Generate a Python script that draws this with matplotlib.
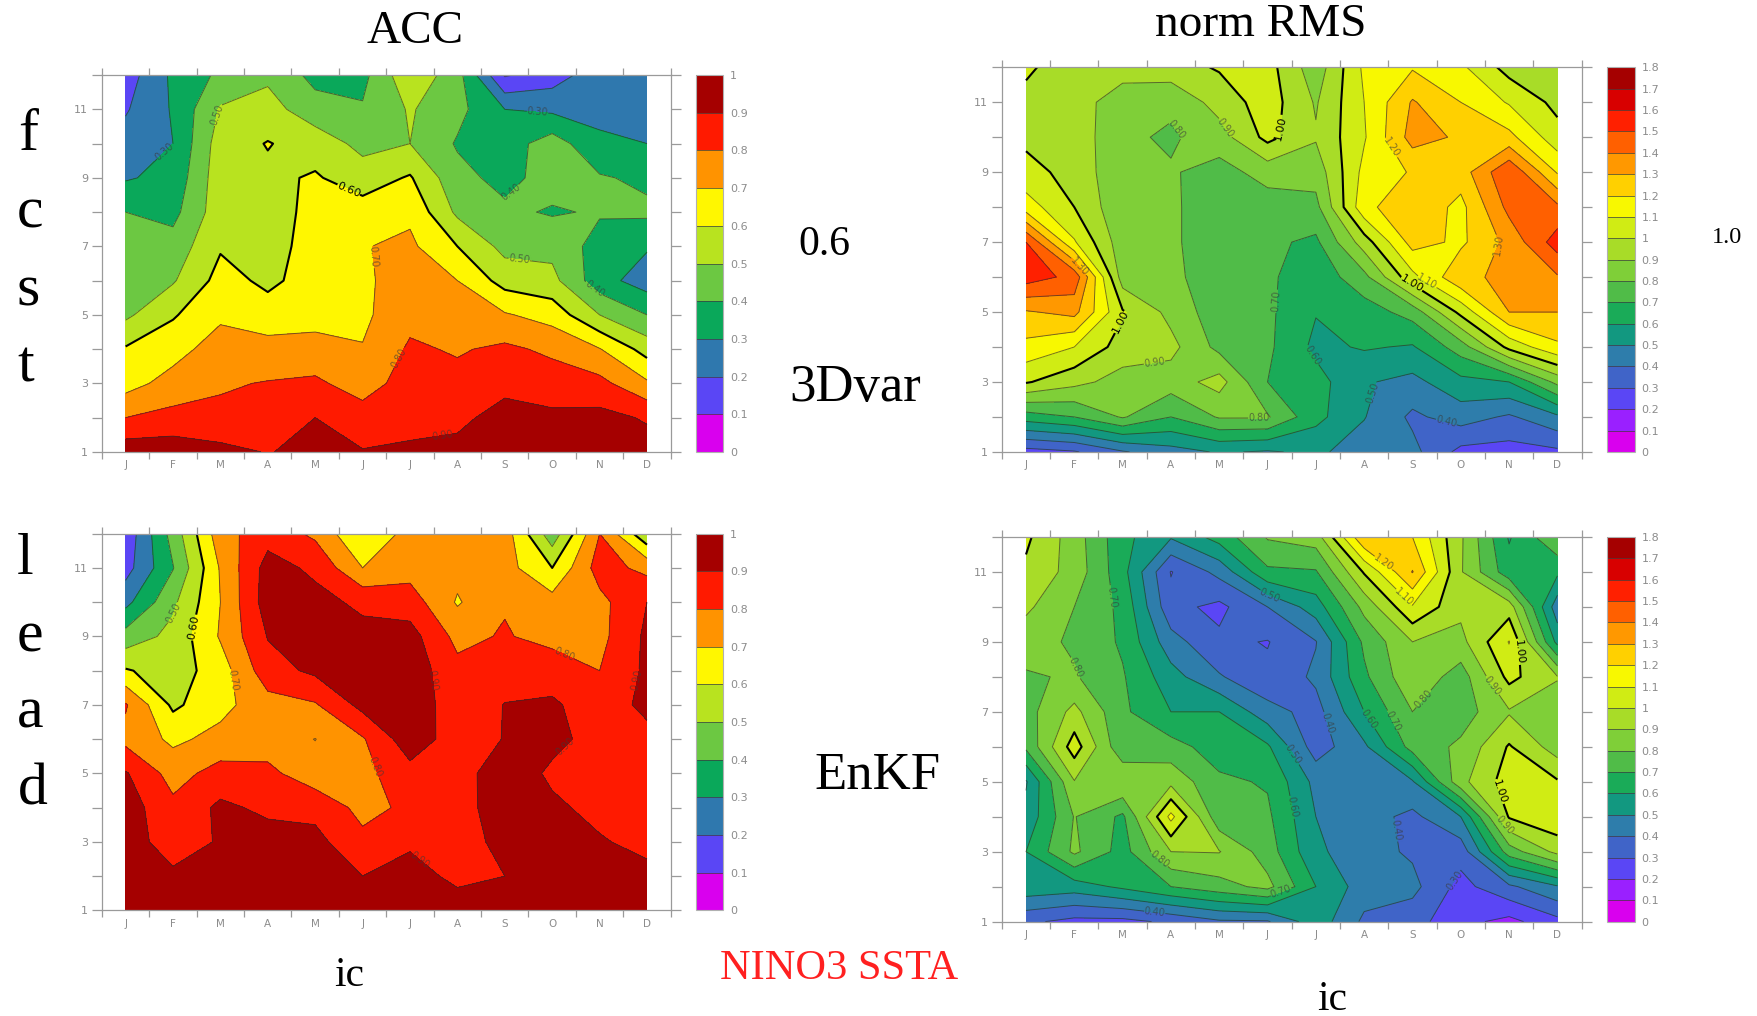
import matplotlib
matplotlib.use('Agg')
import matplotlib.pyplot as plt
import numpy as np

W, H = 1758, 1016
SCALE = W / 1568.0
SERIF = 'Liberation Serif'
GREY = '#9a9a9a'
LABEL_GREY = '#8c8c8c'

months = ['J', 'F', 'M', 'A', 'M', 'J', 'J', 'A', 'S', 'O', 'N', 'D']
leads = list(range(1, 13))

acc_levels = [round(0.1 * i, 1) for i in range(11)]
rms_levels = [round(0.1 * i, 1) for i in range(19)]

acc_colors = ['#d900ee', '#5a46f5', '#2f78ae', '#0aa85a', '#6cc842',
              '#b8e31f', '#fff700', '#ff9300', '#ff1a00', '#a50000']
rms_colors = ['#d900ee', '#9a20ff', '#5a46f5', '#4064c8', '#2e7dab', '#129880',
              '#1aab58', '#50bc48', '#7fcf38', '#a8dc28', '#d0ec14', '#f8f800',
              '#ffd000', '#ff9800', '#ff6000', '#ff2000', '#d80000', '#a50000']

# one row per month (J..D), lead 1..12 along the row
acc_3dvar = [
    [.96, .80, .66, .61, .48, .46, .44, .40, .29, .24, .19, .15],
    [.96, .83, .74, .66, .59, .49, .44, .37, .33, .30, .31, .32],
    [.93, .82, .79, .75, .68, .635, .59, .56, .56, .55, .51, .42],
    [.895, .85, .805, .74, .64, .58, .57, .57, .58, .605, .54, .48],
    [.93, .90, .82, .73, .67, .64, .63, .62, .61, .56, .44, .37],
    [.905, .85, .75, .705, .68, .685, .695, .645, .55, .47, .41, .37],
    [.905, .89, .85, .815, .77, .74, .72, .68, .61, .50, .51, .58],
    [.93, .875, .83, .79, .745, .70, .60, .48, .43, .39, .43, .44],
    [.96, .94, .87, .82, .71, .56, .47, .42, .37, .35, .30, .09],
    [.96, .92, .85, .78, .66, .53, .47, .39, .44, .45, .28, .15],
    [.95, .93, .83, .705, .50, .34, .36, .41, .41, .32, .27, .26],
    [.94, .89, .715, .56, .40, .25, .31, .42, .38, .30, .26, .24],
]
rms_3dvar = [
    [.26, .65, 1.01, 1.17, 1.29, 1.55, 1.5, 1.15, 1.03, .98, .975, 1.015],
    [.29, .70, .93, 1.10, 1.33, 1.47, 1.11, 1.0, .97, .96, .95, .95],
    [.39, .81, .86, .955, 1.01, .85, .84, .82, .815, .82, .84, .95],
    [.46, .70, .85, .93, .87, .83, .82, .82, .81, .785, .82, .96],
    [.51, .81, .94, .77, .74, .73, .73, .73, .76, .855, .94, 1.01],
    [.49, .81, .70, .72, .72, .72, .72, .75, .84, 1.03, 1.05, 1.04],
    [.52, .63, .64, .575, .605, .63, .68, .77, .84, .91, .89, .84],
    [.45, .505, .51, .61, .65, .77, .95, 1.17, 1.13, 1.09, 1.10, 1.12],
    [.43, .38, .47, .59, .74, 1.07, 1.24, 1.28, 1.21, 1.34, 1.31, 1.19],
    [.27, .445, .57, .75, 1.03, 1.28, 1.18, 1.17, 1.25, 1.285, 1.20, 1.12],
    [.26, .385, .60, 1.03, 1.30, 1.32, 1.33, 1.43, 1.49, 1.23, 1.09, .96],
    [.28, .48, .83, 1.18, 1.30, 1.39, 1.55, 1.42, 1.19, 1.04, .97, .93],
]
acc_enkf = [
    [.97, .97, .95, .95, .91, .77, .81, .61, .44, .27, .16, .13],
    [.96, .92, .85, .825, .76, .68, .58, .55, .53, .48, .395, .44],
    [.97, .95, .91, .92, .84, .73, .67, .65, .71, .70, .71, .76],
    [.97, .96, .94, .88, .825, .75, .76, .86, .905, .95, .94, .86],
    [.97, .96, .93, .87, .74, .698, .79, .92, .94, .93, .88, .78],
    [.96, .90, .825, .77, .77, .79, .93, .96, .93, .88, .70, .60],
    [.97, .95, .88, .82, .865, .96, .97, .96, .94, .85, .76, .74],
    [.96, .87, .84, .84, .85, .85, .84, .83, .77, .69, .73, .75],
    [.96, .90, .94, .98, .97, .904, .903, .86, .81, .79, .74, .75],
    [.97, .97, .95, .92, .88, .93, .91, .87, .76, .74, .60, .44],
    [.97, .96, .91, .87, .85, .86, .865, .80, .77, .77, .845, .80],
    [.97, .93, .87, .85, .86, .88, .916, .92, .92, .90, .77, .52],
]
rms_enkf = [
    [.32, .57, .60, .53, .49, .72, .76, .79, .84, .92, .98, 1.02],
    [.27, .55, .82, .805, .895, 1.05, .93, .81, .785, .80, .86, .85],
    [.27, .62, .66, .68, .90, .72, .72, .71, .685, .675, .635, .63],
    [.32, .70, .90, 1.13, .87, .74, .60, .54, .44, .33, .295, .51],
    [.385, .76, .905, .73, .72, .65, .60, .41, .32, .275, .43, .64],
    [.39, .83, .75, .72, .69, .615, .44, .32, .295, .40, .68, .81],
    [.56, .60, .52, .50, .47, .35, .36, .42, .395, .55, .69, .85],
    [.38, .45, .44, .44, .42, .48, .60, .68, .72, .83, 1.01, 1.29],
    [.34, .43, .385, .375, .49, .74, .80, .88, .90, 1.09, 1.305, 1.20],
    [.23, .265, .34, .50, .87, .82, .75, .75, .87, .925, .91, .915],
    [.17, .38, .75, 1.01, 1.05, 1.01, .89, 1.03, 1.105, .95, .64, .59],
    [.27, .49, .93, 1.08, 1.01, .85, .86, .905, .57, .44, .62, .79],
]

# level, month position, lead
acc_3dvar_labels = [(.3, 1.83, 9.77), (.5, 2.98, 10.83), (.3, 9.69, 10.9), (.4, 9.17, 8.5),
                    (.6, 5.72, 8.7), (.7, 6.2, 6.7), (.5, 9.3, 6.54), (.4, 10.9, 5.78),
                    (.8, 6.78, 3.74), (.9, 7.69, 1.41)]
rms_3dvar_labels = [(.8, 4.14, 10.26), (.9, 5.12, 10.26), (1.0, 6.28, 10.26), (1.2, 8.58, 9.72),
                    (1.3, 2.07, 6.27), (1.0, 3.0, 4.7), (.9, 3.66, 3.55), (.7, 6.24, 5.3),
                    (1.3, 10.93, 6.8), (1.0, 8.97, 5.77), (1.1, 9.27, 5.77), (.6, 6.91, 3.75),
                    (.5, 8.16, 2.7), (.4, 9.7, 1.85), (.8, 5.82, 1.95)]
acc_enkf_labels = [(.5, 1.9, 9.74), (.6, 2.37, 9.28), (.7, 3.29, 7.72), (.9, 7.43, 7.72),
                   (.8, 10.26, 8.5), (.9, 11.78, 7.72), (.9, 10.3, 5.73), (.8, 6.44, 5.28),
                   (.9, 7.2, 2.48)]
rms_enkf_labels = [(.7, 2.83, 10.3), (.5, 6.01, 10.17), (1.2, 8.39, 11.24), (1.1, 8.82, 10.27),
                   (.8, 2.09, 8.29), (1.0, 11.2, 8.72), (.9, 10.67, 7.77), (.8, 9.22, 7.39),
                   (.4, 7.32, 6.72), (.6, 8.03, 6.72), (.7, 8.56, 6.72), (.5, 6.48, 5.72),
                   (.6, 6.61, 4.3), (1.0, 10.81, 4.73), (.9, 10.93, 3.78), (.4, 8.7, 3.63),
                   (.8, 3.76, 2.78), (.3, 9.84, 2.21), (.7, 6.28, 1.83), (.4, 3.66, 1.21)]


def fig_axes(fig, left, top, right, bottom):
    # pixel box of the reference, y from the top
    return fig.add_axes([left / W, 1 - bottom / H, (right - left) / W, (bottom - top) / H])


def panel(fig, box, cbar_box, values, levels, colors, bold, labels):
    j_px, d_px, top, bottom = box
    half = (d_px - j_px) / 11 / 2
    ax = fig_axes(fig, j_px - half, top, d_px + half, bottom)
    z = np.array(values).T
    x = np.arange(1, 13)
    y = np.array(leads)

    cf = ax.contourf(x, y, z, levels=levels, colors=colors)

    # one contour set per level, clabel with manual only works well that way
    lines = {}
    for lv in levels[1:-1]:
        if not (z.min() < lv < z.max()):
            continue
        if lv == bold:
            lines[lv] = ax.contour(x, y, z, levels=[lv], colors='black', linewidths=1.5)
        else:
            lines[lv] = ax.contour(x, y, z, levels=[lv], colors='#2c2c2c', linewidths=0.7, alpha=0.65)

    for lev, lx, ly in labels:
        if lev == bold:
            ax.clabel(lines[lev], manual=[(lx, ly)], fmt='%.2f', fontsize=8,
                      inline_spacing=1, colors='black')
        else:
            ax.clabel(lines[lev], manual=[(lx, ly)], fmt='%.2f', fontsize=7,
                      inline_spacing=1, colors='#3a3a3a')

    ax.set_xlim(0.5, 12.5)
    ax.set_ylim(1, 12)
    ax.set_xticks(x, months)
    ax.set_xticks(np.arange(0.5, 13), minor=True)
    ax.set_yticks(y, [str(v) if v % 2 == 1 else '' for v in leads])
    ax.tick_params(axis='x', which='major', length=0, pad=6, labelsize=7.5, labelcolor=LABEL_GREY)
    ax.tick_params(axis='x', which='minor', length=5, width=0.9, color=GREY, top=True, direction='out')
    ax.tick_params(axis='y', which='major', length=7, width=0.9, color=GREY, right=True,
                   direction='out', labelsize=8, labelcolor=LABEL_GREY, pad=3)
    for sp in ax.spines.values():
        sp.set_color(GREY)
        sp.set_linewidth(0.9)

    cax = fig_axes(fig, cbar_box[0], top, cbar_box[1], bottom)
    cbar = fig.colorbar(cf, cax=cax, ticks=levels, drawedges=True)
    cbar.ax.set_yticklabels(['%g' % v for v in levels])
    cbar.ax.tick_params(length=0, labelsize=8, labelcolor=LABEL_GREY, pad=5)
    cbar.outline.set_edgecolor('#b0b0b0')
    cbar.outline.set_linewidth(0.8)
    cbar.dividers.set_color('#3c3c3c')
    cbar.dividers.set_linewidth(0.5)
    return ax


def put(fig, x, y, s, size, color='black'):
    # x, y, nudged since va=center counts the descent
    y = y + size * 0.11
    fig.text(x * SCALE / W, 1 - y * SCALE / H, s, fontsize=size, family=SERIF, color=color,
             ha='center', va='center')


def main():
    fig = plt.figure(figsize=(W / 100, H / 100), dpi=100, facecolor='white')

    left_cb = (696.3, 723.2)
    right_cb = (1606.7, 1634.7)
    panel(fig, (125.6, 647.0, 75.1, 451.9), left_cb, acc_3dvar, acc_levels, acc_colors, .6,
          acc_3dvar_labels)
    panel(fig, (1026.0, 1557.4, 67.3, 451.9), right_cb, rms_3dvar, rms_levels, rms_colors, 1.0,
          rms_3dvar_labels)
    panel(fig, (125.6, 647.0, 533.7, 910.4), left_cb, acc_enkf, acc_levels, acc_colors, .6,
          acc_enkf_labels)
    panel(fig, (1026.0, 1557.4, 537.0, 921.6), right_cb, rms_enkf, rms_levels, rms_colors, 1.0,
          rms_enkf_labels)

    put(fig, 370, 25, 'ACC', 34)
    put(fig, 1124, 18, 'norm RMS', 34)
    put(fig, 735, 215, '0.6', 30)
    put(fig, 763, 342, '3Dvar', 38)
    put(fig, 783, 688, 'EnKF', 38)
    put(fig, 1540, 210, '1.0', 17.5)
    put(fig, 311, 867, 'ic', 30)
    put(fig, 1188, 888, 'ic', 30)
    put(fig, 748, 861, 'NINO3 SSTA', 30.5, color='#ff2020')

    for s, x, y in [('f', 25, 117), ('c', 27, 186), ('s', 25, 255), ('t', 23, 323),
                    ('l', 22, 495), ('e', 27, 564), ('a', 27, 632), ('d', 29, 700)]:
        put(fig, x, y, s, 43)

    fig.savefig('out.png', dpi=100, facecolor='white')


if __name__ == '__main__':
    main()
